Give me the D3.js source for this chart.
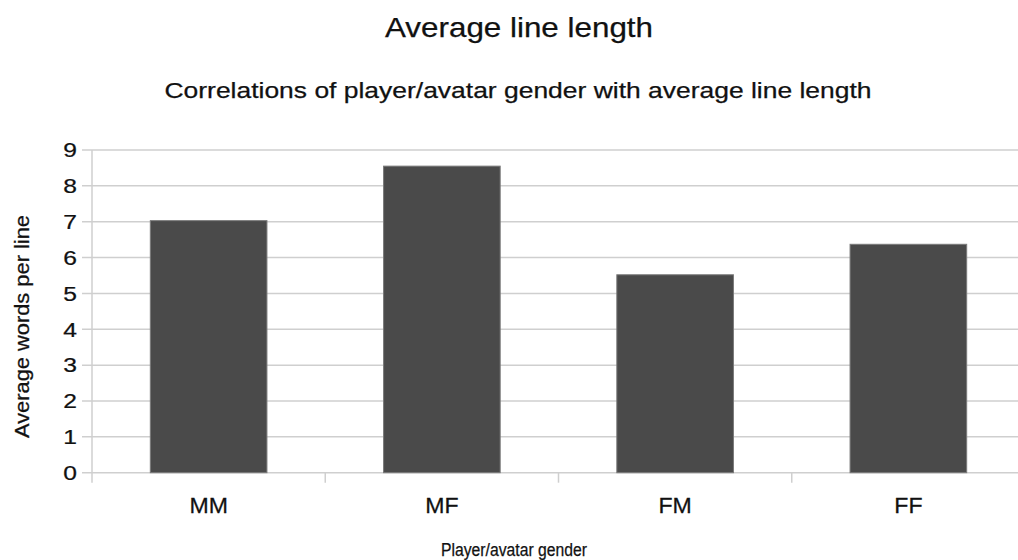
<!DOCTYPE html>
<html>
<head>
<meta charset="utf-8">
<script src="https://cdn.jsdelivr.net/npm/d3@7"></script>
<style>
  html, body { margin: 0; padding: 0; background: #fff; }
  svg { display: block; font-family: "Liberation Sans", Arial, Helvetica, sans-serif; }
  text { stroke: #111; stroke-width: 0.25px; }
</style>
</head>
<body>
<svg id="chart" width="1018" height="560"></svg>
<script>
const categories = ["MM", "MF", "FM", "FF"];
const values = [7.03, 8.55, 5.52, 6.37];
const yTicks = [0, 1, 2, 3, 4, 5, 6, 7, 8, 9];
const titleText = "Average line length";
const subtitleText = "Correlations of player/avatar gender with average line length";
const xTitleText = "Player/avatar  gender";
const yTitleText = "Average words per line";

const svg = d3.select("#chart");
const plotLeft = 92, plotRight = 1025, plotTop = 150, plotBottom = 472.7;

const x = d3.scaleBand().domain(categories).range([plotLeft, plotRight])
  .paddingInner(0.5).paddingOuter(0.25);
const y = d3.scaleLinear().domain([0, 9]).range([plotBottom, plotTop]);

const grid = "#cfcfcf";

// gridlines
svg.append("g").selectAll("line").data(yTicks).join("line")
  .attr("x1", plotLeft - 10).attr("x2", plotRight)
  .attr("y1", d => y(d)).attr("y2", d => y(d))
  .attr("stroke", grid).attr("stroke-width", 1.5);

// y axis line
svg.append("line").attr("x1", plotLeft).attr("x2", plotLeft)
  .attr("y1", plotTop).attr("y2", plotBottom + 10)
  .attr("stroke", grid).attr("stroke-width", 1.5);

// x category boundary ticks
const step = x.step();
const bounds = categories.map((c, i) => plotLeft + i * step).slice(1);
svg.append("g").selectAll("line").data(bounds).join("line")
  .attr("x1", d => d).attr("x2", d => d)
  .attr("y1", plotBottom).attr("y2", plotBottom + 10)
  .attr("stroke", grid).attr("stroke-width", 1.5);

// bars
svg.append("g").selectAll("rect").data(values).join("rect")
  .attr("x", (d, i) => x(categories[i]))
  .attr("width", x.bandwidth())
  .attr("y", d => y(d))
  .attr("height", d => y(0) - y(d))
  .attr("fill", "#4a4a4a")
  .attr("stroke", "#7a7a7a").attr("stroke-width", 1);

// y tick labels
svg.append("g").selectAll("text").data(yTicks).join("text")
  .attr("transform", d => `translate(77,${y(d) + 7.3}) scale(1.2,1)`)
  .attr("text-anchor", "end")
  .attr("font-size", 20.5)
  .attr("fill", "#111")
  .text(d => d);

// x tick labels
svg.append("g").selectAll("text").data(categories).join("text")
  .attr("transform", d => `translate(${x(d) + x.bandwidth() / 2},513.3) scale(1.05,1)`)
  .attr("text-anchor", "middle")
  .attr("font-size", 22)
  .attr("fill", "#111")
  .text(d => d);

// title
svg.append("text").attr("x", 519).attr("y", 36.7)
  .attr("text-anchor", "middle").attr("font-size", 28).attr("fill", "#111")
  .attr("textLength", 268).attr("lengthAdjust", "spacingAndGlyphs")
  .text(titleText);

// subtitle
svg.append("text").attr("x", 518).attr("y", 98.3)
  .attr("text-anchor", "middle").attr("font-size", 21.5).attr("fill", "#111")
  .attr("textLength", 707).attr("lengthAdjust", "spacingAndGlyphs")
  .text(subtitleText);

// x axis title
svg.append("text").attr("x", 514).attr("y", 556)
  .attr("text-anchor", "middle").attr("font-size", 17.5).attr("fill", "#111")
  .attr("textLength", 146).attr("lengthAdjust", "spacingAndGlyphs")
  .text(xTitleText);

// y axis title
svg.append("text")
  .attr("transform", "translate(29,326.5) scale(1.1,1) rotate(-90)")
  .attr("text-anchor", "middle").attr("font-size", 18).attr("fill", "#111")
  .attr("textLength", 223).attr("lengthAdjust", "spacingAndGlyphs")
  .text(yTitleText);
</script>
</body>
</html>
